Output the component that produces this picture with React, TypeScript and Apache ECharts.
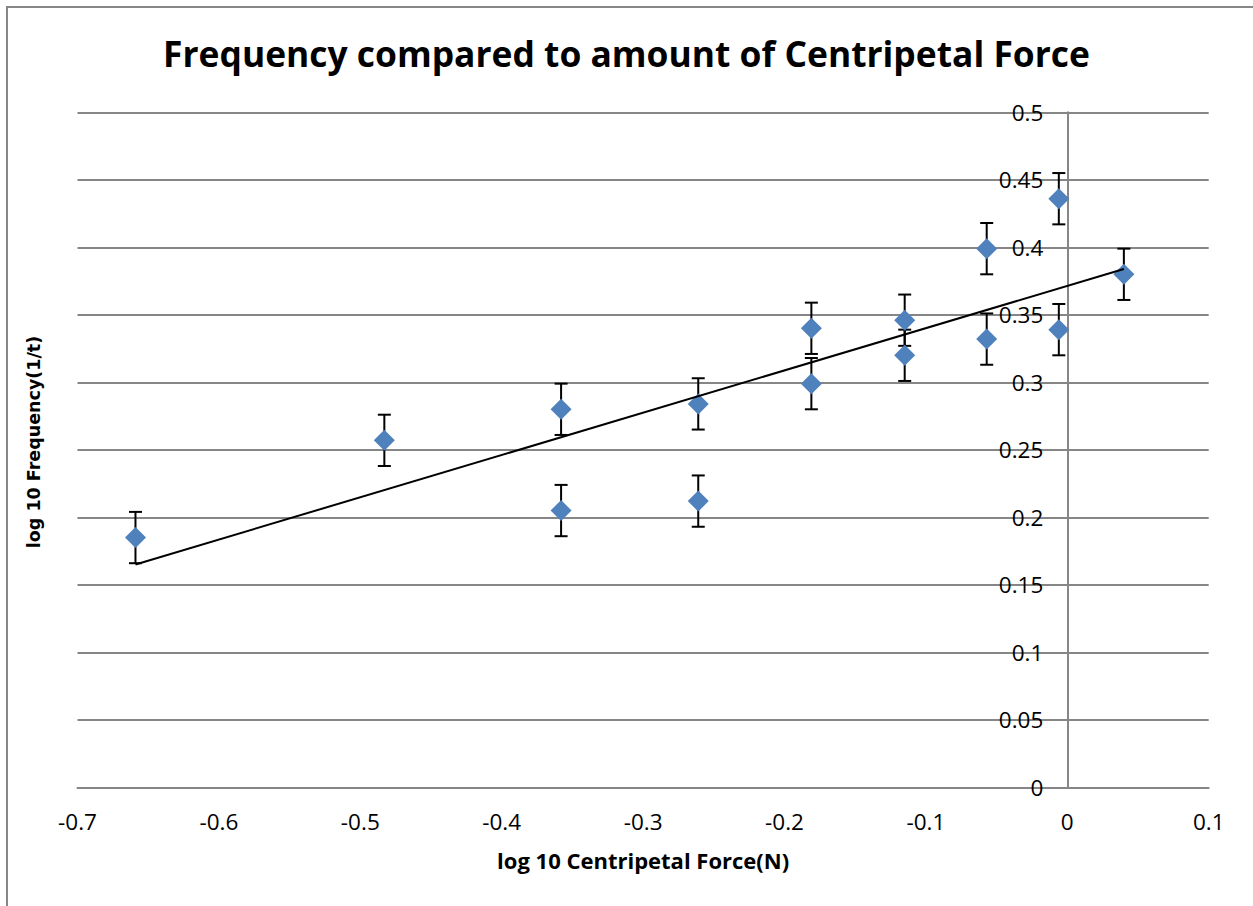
import React, { useEffect, useRef } from "react";
import * as echarts from "echarts";

const chartTitle = "Frequency compared to amount of Centripetal Force";
const xAxisTitle = "log 10 Centripetal Force(N)";
const yAxisTitle = "log 10 Frequency(1/t)";

const forceLog = [-0.659, -0.483, -0.358, -0.358, -0.261, -0.261, -0.181, -0.181, -0.115, -0.115, -0.057, -0.057, -0.006, -0.006, 0.04];
const freqLog = [0.185, 0.257, 0.28, 0.205, 0.284, 0.212, 0.34, 0.299, 0.346, 0.32, 0.399, 0.332, 0.436, 0.339, 0.38];
const freqErr = [0.019, 0.019, 0.019, 0.019, 0.019, 0.019, 0.019, 0.019, 0.019, 0.019, 0.019, 0.019, 0.019, 0.019, 0.019];

const xMin = -0.7;
const xMax = 0.1;
const xStep = 0.1;
const yMin = 0;
const yMax = 0.5;
const yStep = 0.05;

function linearFit(xs: number[], ys: number[]) {
  const n = xs.length;
  const mx = xs.reduce((a, b) => a + b, 0) / n;
  const my = ys.reduce((a, b) => a + b, 0) / n;
  let sxy = 0;
  let sxx = 0;
  for (let i = 0; i < n; i++) {
    sxy += (xs[i] - mx) * (ys[i] - my);
    sxx += (xs[i] - mx) * (xs[i] - mx);
  }
  const slope = sxy / sxx;
  return { slope, intercept: my - slope * mx };
}

export default function App() {
  const ref = useRef<HTMLDivElement>(null);

  useEffect(() => {
    if (!ref.current) return;
    const chart = echarts.init(ref.current, null, { renderer: "svg" });
    const points = forceLog.map((x, i) => [x, freqLog[i]]);
    const errs = forceLog.map((x, i) => [x, freqLog[i], freqErr[i]]);
    const fit = linearFit(forceLog, freqLog);
    const x0 = Math.min(...forceLog);
    const x1 = Math.max(...forceLog);
    const trend = [
      [x0, fit.slope * x0 + fit.intercept],
      [x1, fit.slope * x1 + fit.intercept],
    ];
    const fmt = (v: number) => String(Number(v.toFixed(2)));
    const gray = "#868686";
    const gridLeft = 77.5;
    const gridWidth = 1131.2;
    // y axis crosses the x axis at x = 0
    const yAxisOffset = -((0 - xMin) / (xMax - xMin)) * gridWidth;

    chart.setOption({
      animation: false,
      backgroundColor: "#ffffff",
      title: {
        text: chartTitle,
        left: "center",
        top: 30,
        textStyle: {
          fontFamily: "Open Sans",
          fontWeight: "bold",
          fontSize: 35.4,
          color: "#000",
        },
      },
      grid: { left: gridLeft, top: 112.3, width: gridWidth, height: 675 },
      xAxis: {
        type: "value",
        min: xMin,
        max: xMax,
        interval: xStep,
        name: xAxisTitle,
        nameLocation: "middle",
        nameGap: 62,
        nameTextStyle: {
          fontFamily: "Open Sans",
          fontWeight: "bold",
          fontSize: 22,
          color: "#000",
        },
        axisLine: { show: true, onZero: false, lineStyle: { color: gray, width: 2 } },
        axisTick: { show: false },
        splitLine: { show: false },
        axisLabel: {
          margin: 23,
          formatter: fmt,
          fontFamily: "Open Sans",
          fontSize: 22.5,
          color: "#000",
        },
      },
      yAxis: {
        type: "value",
        min: yMin,
        max: yMax,
        interval: yStep,
        position: "left",
        offset: yAxisOffset,
        axisLine: { show: true, onZero: false, lineStyle: { color: gray, width: 2 } },
        axisTick: { show: false },
        splitLine: { show: true, lineStyle: { color: gray, width: 2 } },
        axisLabel: {
          margin: 24,
          formatter: fmt,
          fontFamily: "Open Sans",
          fontSize: 22.5,
          color: "#000",
        },
      },
      graphic: [
        {
          type: "rect",
          shape: { x: 7, y: 7, width: 1600, height: 1200 },
          style: { fill: "none", stroke: "#878787", lineWidth: 2 },
          silent: true,
        },
        {
          type: "text",
          x: 34,
          y: 442,
          rotation: Math.PI / 2,
          style: {
            text: yAxisTitle,
            font: 'bold 17.5px "DejaVu Sans"',
            fill: "#000",
            align: "center",
            verticalAlign: "middle",
          },
        },
      ],
      series: [
        {
          type: "custom",
          name: "error",
          data: errs,
          z: 2,
          renderItem: (params: any, api: any) => {
            const x = api.value(0);
            const y = api.value(1);
            const e = api.value(2);
            const top = api.coord([x, y + e]);
            const bot = api.coord([x, y - e]);
            const hw = 6.5;
            const style = { stroke: "#000", lineWidth: 2 };
            return {
              type: "group",
              children: [
                { type: "line", shape: { x1: top[0], y1: top[1], x2: bot[0], y2: bot[1] }, style },
                { type: "line", shape: { x1: top[0] - hw, y1: top[1], x2: top[0] + hw, y2: top[1] }, style },
                { type: "line", shape: { x1: bot[0] - hw, y1: bot[1], x2: bot[0] + hw, y2: bot[1] }, style },
              ],
            };
          },
        },
        {
          type: "scatter",
          name: "data",
          data: points,
          symbol: "diamond",
          symbolSize: [21, 21],
          itemStyle: { color: "#4F81BD", opacity: 1 },
          z: 3,
        },
        {
          type: "line",
          name: "trend",
          data: trend,
          symbol: "none",
          lineStyle: { color: "#000", width: 2 },
          z: 4,
        },
      ],
    });
    return () => chart.dispose();
  }, []);

  return (
    <div
      ref={ref}
      style={{ position: "absolute", left: 0, top: 0, width: 1253, height: 906, background: "#fff" }}
    />
  );
}
